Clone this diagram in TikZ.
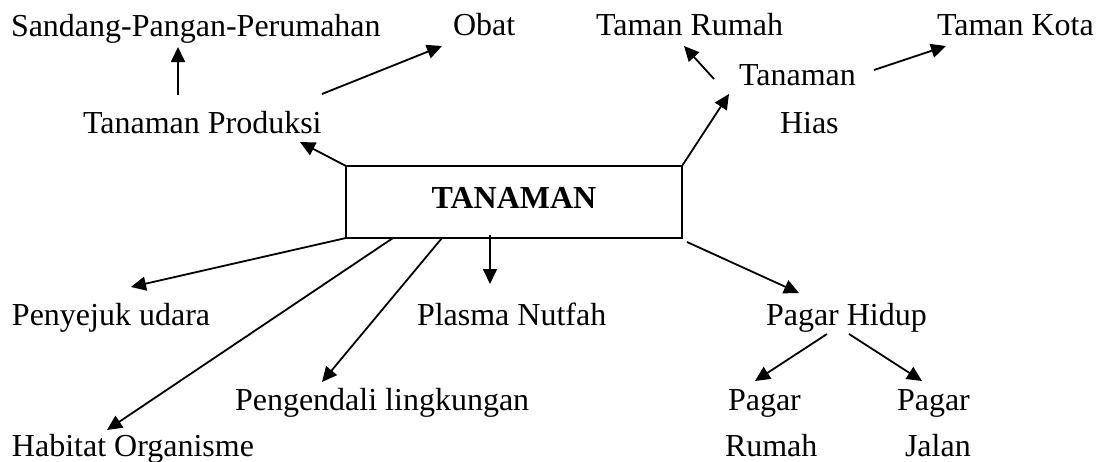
\documentclass[tikz,border=0pt]{standalone}
\usepackage{fontspec}
\setmainfont{Liberation Serif}
\usetikzlibrary{arrows.meta}
\begin{document}
\begin{tikzpicture}[x=1pt,y=-1pt,
  lbl/.style={inner sep=0pt, outer sep=0pt, anchor=base west, font=\fontsize{32}{48}\selectfont},
  arr/.style={line width=1.8pt, -{Triangle[length=15pt,width=14pt]}},
  ln/.style={line width=1.8pt}]
\useasboundingbox (0,0) rectangle (1101,461);
% nodes
\node[lbl] (sandang) at (11,36) {Sandang-Pangan-Perumahan};
\node[lbl] (obat) at (453,35) {Obat};
\node[lbl] (tamanrumah) at (596,35) {Taman Rumah};
\node[lbl] (tamankota) at (937,35) {Taman Kota};
\node[lbl] (prod) at (83,133) {Tanaman Produksi};
\node[lbl] (hias) at (739,85) {Tanaman};
\node[lbl] (hiasb) at (780,133) {Hias};
\node[draw, line width=1.8pt, inner sep=0pt, outer sep=0pt, minimum width=336pt, minimum height=72pt,
      text height=22pt, text depth=10pt, font=\fontsize{32}{48}\selectfont\bfseries] (box) at (514,202) {TANAMAN};
\node[lbl] (penyejuk) at (12,325) {Penyejuk udara};
\node[lbl] (plasma) at (417,325) {Plasma Nutfah};
\node[lbl] (pagarhidup) at (766,325) {Pagar Hidup};
\node[lbl] (pengendali) at (235,410) {Pengendali lingkungan};
\node[lbl] (habitat) at (12,456) {Habitat Organisme};
\node[lbl] (pagarrumah) at (728,410) {Pagar};
\node[lbl] (pagarrumahb) at (725,456) {Rumah};
\node[lbl] (pagarjalan) at (897,410) {Pagar};
\node[lbl] (pagarjalanb) at (905,456) {Jalan};
% connectors
\draw[arr] ([shift={(95,-38)}]prod.base west) -- ([shift={(167,11)}]sandang.base west);
\draw[arr] ([shift={(239,-39)}]prod.base west) -- ([shift={(-11,11)}]obat.base west);
\draw[arr] (box.north west) -- ([shift={(217,9)}]prod.base west);
\draw[arr] (box.north east) -- ([shift={(-10,9)}]hias.base west);
\draw[arr] ([shift={(-25,-6)}]hias.base west) -- ([shift={(88,11)}]tamanrumah.base west);
\draw[arr] ([shift={(135,-15)}]hias.base west) -- ([shift={(9,11)}]tamankota.base west);
\draw[arr] (box.south west) -- ([shift={(119,-38)}]penyejuk.base west);
\draw[arr] ([xshift=47pt]box.south west) -- ([shift={(95,-26)}]habitat.base west);
\draw[arr] ([xshift=96pt]box.south west) -- ([shift={(87,-28)}]pengendali.base west);
\draw[arr] ([shift={(144,-3)}]box.south west) -- ([shift={(73,-41)}]plasma.base west);
\draw[arr] ([shift={(5,4)}]box.south east) -- ([shift={(33,-32)}]pagarhidup.base west);
\draw[arr] ([shift={(61,9)}]pagarhidup.base west) -- ([shift={(27,-29)}]pagarrumah.base west);
\draw[arr] ([shift={(83,9)}]pagarhidup.base west) -- ([shift={(25,-29)}]pagarjalan.base west);
\end{tikzpicture}
\end{document}
